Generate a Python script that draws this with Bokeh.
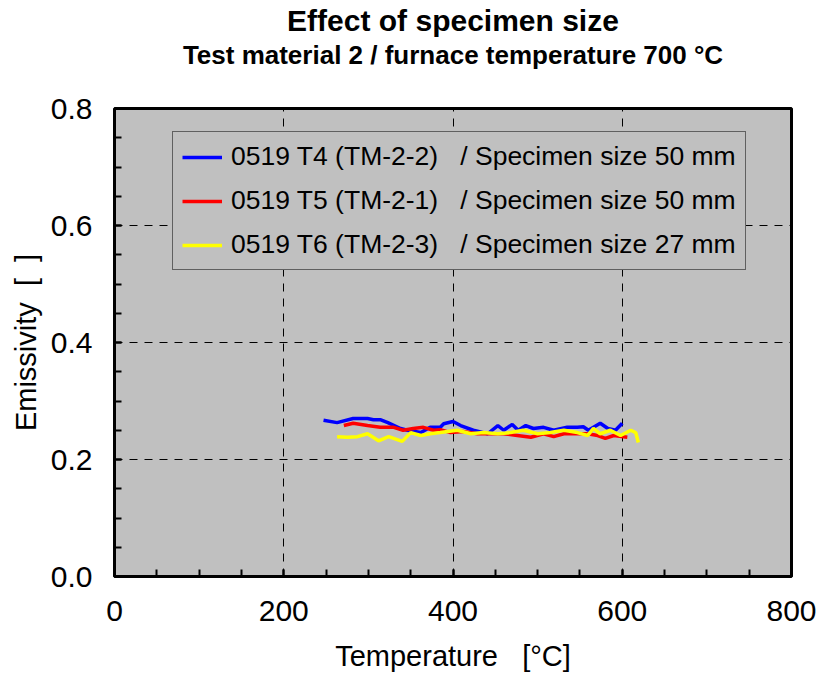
from bokeh.plotting import figure
from bokeh.models import (Range1d, Title, SingleIntervalTicker,
                          PrintfTickFormatter, Legend, LegendItem)
from bokeh.embed import file_html
from bokeh.resources import INLINE

# ---- data ----
t4_temp = [247, 263, 282, 299, 306, 314, 323, 338, 346, 362, 373, 385, 389, 400,
           409, 424, 441, 453, 460, 470, 477, 486, 495, 507, 519, 535, 547, 554,
           560, 574, 583, 592, 600]
t4_emis = [0.267, 0.263, 0.270, 0.270, 0.268, 0.268, 0.263, 0.253, 0.250, 0.246,
           0.255, 0.255, 0.261, 0.265, 0.258, 0.250, 0.244, 0.258, 0.250, 0.260,
           0.250, 0.258, 0.253, 0.255, 0.250, 0.255, 0.255, 0.256, 0.250, 0.262,
           0.253, 0.250, 0.262]

t5_temp = [271, 282, 299, 314, 330, 341, 353, 365, 377, 385, 397, 412, 429, 444,
           460, 476, 492, 507, 519, 531, 547, 559, 571, 580, 590, 606]
t5_emis = [0.258, 0.262, 0.258, 0.255, 0.255, 0.250, 0.253, 0.255, 0.250, 0.251,
           0.246, 0.248, 0.244, 0.244, 0.244, 0.241, 0.238, 0.244, 0.239, 0.244,
           0.244, 0.244, 0.241, 0.236, 0.241, 0.238]

t6_temp = [263, 275, 287, 299, 312, 324, 340, 350, 362, 373, 385, 405, 421, 436,
           453, 468, 483, 500, 515, 531, 547, 559, 566, 574, 586, 598, 610, 616, 619]
t6_emis = [0.239, 0.238, 0.239, 0.244, 0.232, 0.239, 0.231, 0.246, 0.241, 0.244,
           0.246, 0.250, 0.244, 0.246, 0.244, 0.246, 0.250, 0.244, 0.246, 0.250,
           0.246, 0.241, 0.253, 0.244, 0.250, 0.241, 0.250, 0.246, 0.229]

SP3 = " \u00a0 "
series_labels = [
    "0519 T4 (TM-2-2)" + SP3 + "/ Specimen size 50 mm",
    "0519 T5 (TM-2-1)" + SP3 + "/ Specimen size 50 mm",
    "0519 T6 (TM-2-3)" + SP3 + "/ Specimen size 27 mm",
]
series_colors = ["#0000FF", "#FF0000", "#FFFF00"]

title_text = "Effect of specimen size"
subtitle_text = "Test material 2 / furnace temperature 700 °C"
x_title = "Temperature \u00a0 [°C]"
y_title = "Emissivity \u00a0[ \u00a0]"

FONT = "Liberation Sans"
BG = "#C0C0C0"

p = figure(width=820, height=691, output_backend="svg", toolbar_location=None,
           x_range=Range1d(0, 800), y_range=Range1d(0, 0.8),
           min_border_left=114, min_border_right=29, min_border_top=108,
           min_border_bottom=115, background_fill_color=BG,
           border_fill_color="white")
p.title = None
p.outline_line_color = "black"
p.outline_line_width = 3

r4 = p.line(t4_temp, t4_emis, line_color=series_colors[0], line_width=3.5)
r5 = p.line(t5_temp, t5_emis, line_color=series_colors[1], line_width=3.5)
r6 = p.line(t6_temp, t6_emis, line_color=series_colors[2], line_width=3.5)

# axes
xa = p.xaxis[0]
ya = p.yaxis[0]
xa.ticker = SingleIntervalTicker(interval=200, num_minor_ticks=4)
ya.ticker = SingleIntervalTicker(interval=0.2, num_minor_ticks=4)
ya.formatter = PrintfTickFormatter(format="%.1f")
for ax in (xa, ya):
    ax.axis_line_color = None
    ax.major_tick_in = 7
    ax.major_tick_out = 0
    ax.minor_tick_in = 7
    ax.minor_tick_out = 0
    ax.major_tick_line_width = 2
    ax.minor_tick_line_width = 2
    ax.major_label_text_font = FONT
    ax.major_label_text_font_size = "30px"
    ax.major_label_text_color = "black"
    ax.axis_label_text_font = FONT
    ax.axis_label_text_font_size = "29px"
    ax.axis_label_text_font_style = "normal"
    ax.axis_label_text_color = "black"
xa.axis_label = x_title
ya.axis_label = y_title
xa.major_label_standoff = 24
xa.axis_label_standoff = 16
ya.major_label_standoff = 22
ya.axis_label_standoff = 6

# grid
for g in (p.xgrid[0], p.ygrid[0]):
    g.grid_line_color = "black"
    g.grid_line_dash = "8 7"
    g.grid_line_width = 1

# legend
legend = Legend(items=[LegendItem(label=series_labels[0], renderers=[r4]),
                       LegendItem(label=series_labels[1], renderers=[r5]),
                       LegendItem(label=series_labels[2], renderers=[r6])],
                location=(58, 306), orientation="vertical",
                label_text_font=FONT, label_text_font_size="26.5px",
                label_text_color="black",
                padding=9, spacing=13, margin=0,
                glyph_width=40, glyph_height=30, label_height=30,
                label_standoff=9,
                border_line_color="black", border_line_width=1.5,
                background_fill_color=BG, background_fill_alpha=1.0)
p.add_layout(legend, "center")

# titles (subtitle first: closest to the frame); the trailing empty line
# lifts the subtitle away from the frame
p.add_layout(Title(text=subtitle_text + "\n", align="center",
                   text_font=FONT, text_font_size="26px", text_font_style="bold",
                   text_color="black", standoff=18), "above")
p.add_layout(Title(text=title_text, align="center", text_font=FONT,
                   text_font_size="30px", text_font_style="bold",
                   text_color="black", standoff=-17), "above")

open("out.html", "w").write(file_html(p, INLINE))
